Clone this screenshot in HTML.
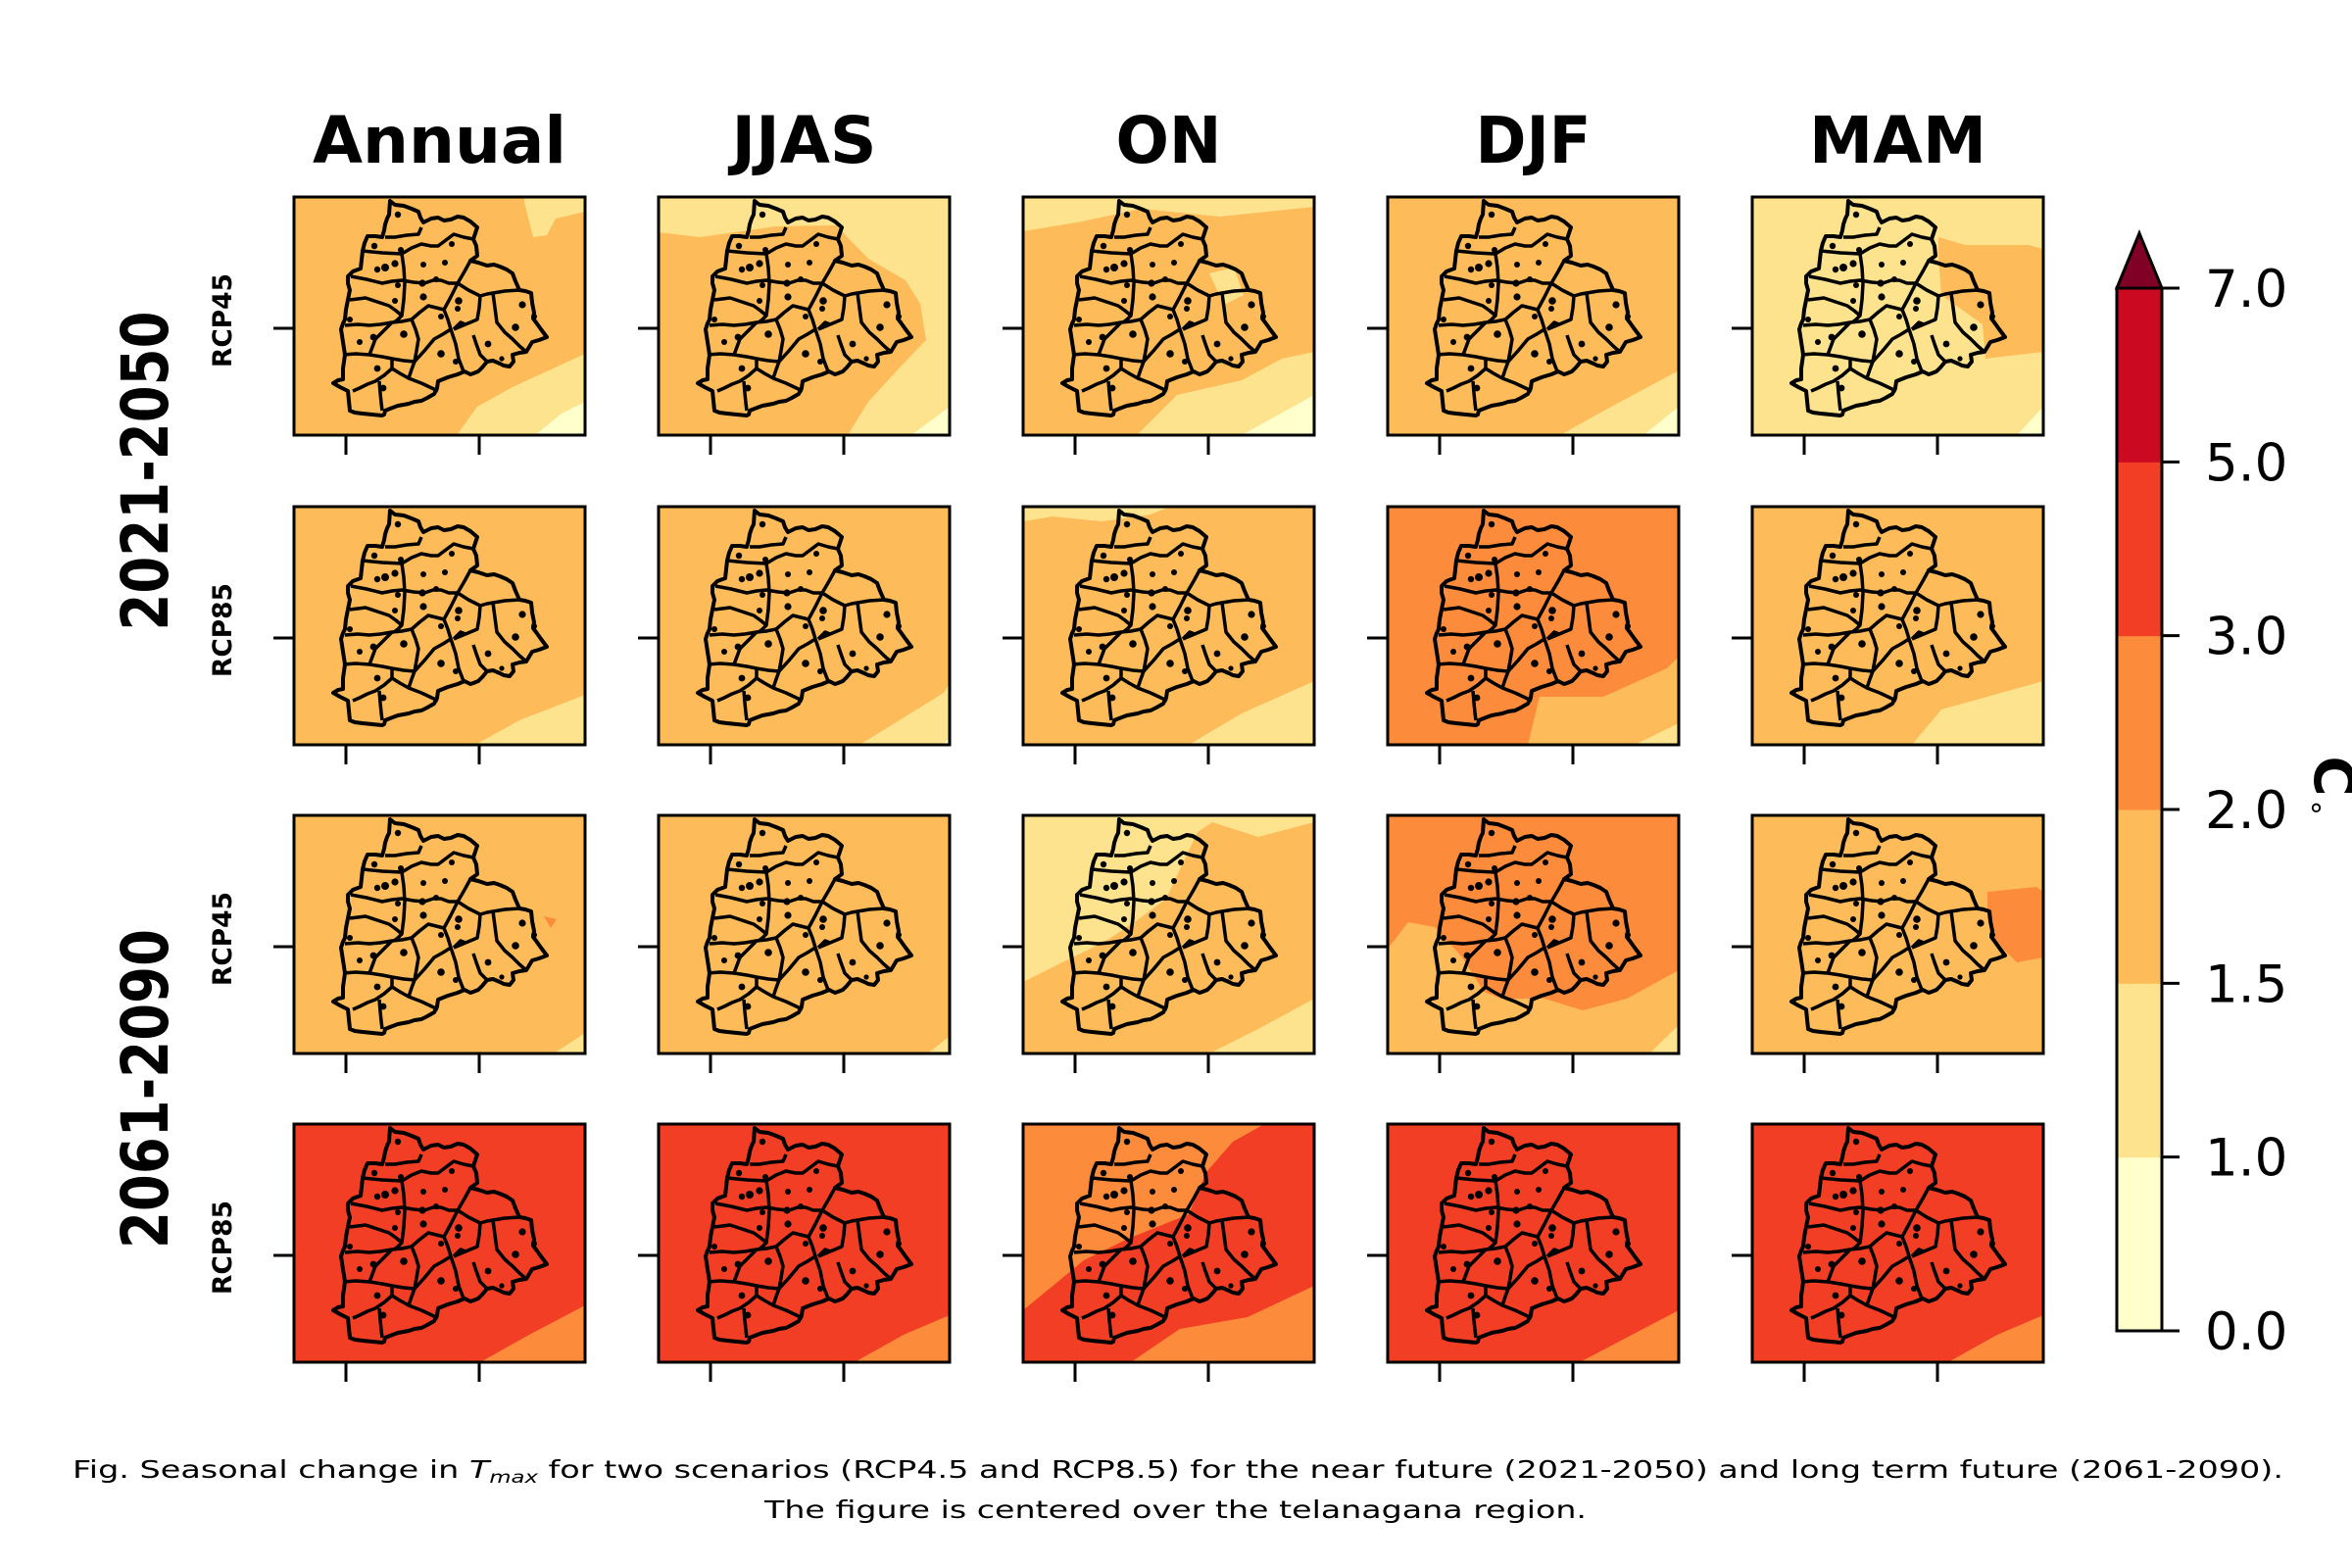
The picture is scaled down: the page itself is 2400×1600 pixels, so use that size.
<!DOCTYPE html>
<html><head><meta charset="utf-8">
<style>
html,body{margin:0;padding:0;background:#fff;}
svg{display:block;}
text{font-family:"DejaVu Sans","Liberation Sans",sans-serif;}
</style></head>
<body>
<svg id="fig" xmlns="http://www.w3.org/2000/svg" width="2400" height="1600" viewBox="0 0 2400 1600">
<defs>
<symbol id="telangana" viewBox="0 0 297 243" width="297" height="243">
<path d="M98,4 L103,8 L112,9 L120,12 L127,15 L129,21 L132,26 L140,22 L147,21 L153,24 L160,23 L167,20 L173,21 L180,25 L187,31 L185,37 L183,43 L186,50 L187,60 L180,65 L188,67 L197,70 L204,69 L210,71 L217,74 L223,78 L226,86 L230,95 L236,96 L242,98 L243,108 L245,118 L244,124 L247,128 L252,135 L258,143 L250,146 L243,148 L240,153 L237,158 L230,159 L223,161 L224,168 L220,173 L214,172 L210,170 L203,167 L197,168 L192,174 L188,178 L183,180 L180,181 L174,178 L167,181 L157,184 L147,188 L146,195 L143,201 L136,205 L130,208 L123,209 L117,211 L106,213 L98,216 L93,218 L92,222 L90,223 L80,222 L70,221 L62,220 L57,218 L56,208 L55,198 L47,194 L40,190 L45,187 L50,186 L50,175 L52,161 L50,148 L48,135 L50,129 L52,125 L53,115 L55,105 L57,95 L55,88 L55,81 L60,76 L68,73 L69,64 L70,55 L72,47 L75,40 L83,40 L90,41 L92,34 L93,28 L95,22 L97,18 Z" fill="none" stroke="#000" stroke-width="4" stroke-linejoin="round"/>
<g fill="none" stroke="#000" stroke-width="3.5" stroke-linejoin="round">
<polyline points="93,41 103,41 115,39 127,38 130,31"/>
<polyline points="70,55 90,57 110,58 120,52 130,48 140,50 147,50 155,44 163,38 173,41 183,43"/>
<polyline points="58,81 74,84 90,88 100,86 110,85 122,87 133,88 142,85 150,85 158,88 167,88 174,76 180,65"/>
<polyline points="110,58 112,72 113,88 112,105 110,121 106,125 102,128"/>
<polyline points="57,105 65,104 73,103 85,107 97,111 104,116 110,121"/>
<polyline points="52,131 65,130 77,131 88,130 100,128 110,127 120,125 128,118 137,111 145,113 153,115 160,102 167,88"/>
<polyline points="153,115 157,125 160,135 165,150 168,165 173,178"/>
<polyline points="167,88 178,95 190,101 197,99 203,98 215,96 230,95"/>
<polyline points="190,101 189,113 187,125 175,130 163,135"/>
<polyline points="203,98 205,113 207,128 215,138 223,145 230,152 237,158"/>
<polyline points="183,141 186,150 190,161 197,168"/>
<polyline points="120,125 124,135 127,145 125,157 123,168 120,176 117,185"/>
<polyline points="123,168 133,157 143,145 152,140 160,135"/>
<polyline points="50,161 63,160 77,161 90,163 100,165 112,167 123,168"/>
<polyline points="100,128 92,136 83,145 80,153 77,161"/>
<polyline points="60,198 67,195 75,191 83,188 92,182 100,175 108,180 117,185 130,190 147,198"/>
<polyline points="100,165 100,175"/>
<polyline points="87,188 88,200 89,210 90,218"/>
<polyline points="163,135 170,128 175,130"/>
</g>
<g fill="#000">
<circle cx="106" cy="18" r="3.2"/><circle cx="82" cy="50" r="3.2"/><circle cx="109" cy="54" r="3"/>
<circle cx="85" cy="74" r="3.2"/><circle cx="93" cy="72" r="4"/><circle cx="103" cy="68" r="3.6"/>
<circle cx="132" cy="69" r="3"/><circle cx="154" cy="67" r="3"/><circle cx="161" cy="48" r="3"/>
<circle cx="145" cy="84" r="3"/><circle cx="131" cy="88" r="3.6"/><circle cx="106" cy="90" r="3"/>
<circle cx="132" cy="102" r="3.6"/><circle cx="103" cy="106" r="3"/><circle cx="168" cy="106" r="3.8"/>
<circle cx="167" cy="114" r="3"/><circle cx="150" cy="122" r="3"/><circle cx="233" cy="110" r="3.6"/>
<circle cx="245" cy="122" r="3"/><circle cx="226" cy="133" r="3.8"/><circle cx="198" cy="150" r="3.4"/>
<circle cx="112" cy="140" r="3.8"/><circle cx="81" cy="143" r="3.4"/><circle cx="67" cy="148" r="3"/>
<circle cx="150" cy="160" r="3.8"/><circle cx="165" cy="168" r="3"/><circle cx="85" cy="175" r="3.4"/>
<circle cx="91" cy="195" r="3.4"/><circle cx="57" cy="125" r="3"/><circle cx="212" cy="165" r="2.6"/>
</g>
</symbol>
</defs>
<g id="panels"></g>
<g id="titles"></g>
<g id="rowlabels"></g>
<g id="cbar"></g>
<g>
<text x="74" y="1508" font-size="25" textLength="2256" lengthAdjust="spacingAndGlyphs">Fig. Seasonal change in <tspan font-style="italic">T</tspan><tspan font-style="italic" font-size="17" dy="5">max</tspan><tspan dy="-5"> for two scenarios (RCP4.5 and RCP8.5) for the near future (2021-2050) and long term future (2061-2090).</tspan></text>
<text x="780" y="1549" font-size="25" textLength="839" lengthAdjust="spacingAndGlyphs">The figure is centered over the telanagana region.</text>
</g>
</svg>
<script>
const NS = 'http://www.w3.org/2000/svg';
const levelColors = ['#ffffcc','#fee38f','#fdbb5a','#fc8c3c','#f13e25','#cb0a22'];
const levelBounds = [0.0, 1.0, 1.5, 2.0, 3.0, 5.0, 7.0];
const extendColor = '#800026';
const seasons = ['Annual','JJAS','ON','DJF','MAM'];
const scenarios = ['RCP45','RCP85','RCP45','RCP85'];
const periods = ['2021-2050','2061-2090'];
// base warming level (index into levelColors) per panel [row][col]
const baseLevel = [
  [2,1,2,2,1],
  [2,2,2,3,2],
  [2,2,2,3,2],
  [4,4,3,4,4]
];
// contour regions per panel: [row, col, level, polygon in panel-local coords]
const regions = [
  [0,0,1,'235,0 297,0 297,15 267,22 258,39 244,41 235,5'],
  [0,0,1,'166,243 187,214 223,194 297,160 297,243'],
  [0,0,0,'246,243 273,221 297,209 297,243'],
  [0,1,2,'0,36 42,41 120,30 181,29 214,63 252,85 267,109 273,146 247,173 214,209 193,243 0,243'],
  [0,1,0,'258,243 297,214 297,243'],
  [0,2,1,'0,0 297,0 297,10 200,20 120,12 60,25 0,35'],
  [0,2,1,'190,78 215,72 225,100 205,110'],
  [0,2,1,'116,243 157,202 223,187 264,165 297,158 297,243'],
  [0,2,0,'223,243 297,202 297,243'],
  [0,3,1,'176,243 219,219 297,177 297,243'],
  [0,3,0,'261,243 297,214 297,243'],
  [0,4,2,'190,41 217,49 282,49 297,53 297,158 238,165 235,130 193,100 190,63'],
  [0,4,0,'270,243 297,214 297,243'],
  [1,0,1,'185,243 230,218 297,192 297,243'],
  [1,1,1,'205,243 291,190 297,180 297,243'],
  [1,1,0,'290,243 297,235 297,243'],
  [1,2,1,'0,0 150,0 130,8 80,15 30,10 0,15'],
  [1,2,1,'169,243 223,211 297,178 297,243'],
  [1,3,2,'143,243 155,194 220,194 285,165 297,153 297,243'],
  [1,3,1,'252,243 297,221 297,243'],
  [1,4,1,'163,243 193,207 297,178 297,243'],
  [2,0,1,'265,243 297,222 297,243'],
  [2,0,3,'255,103 268,106 262,115'],
  [2,1,1,'275,243 297,225 297,243'],
  [2,2,1,'0,0 297,0 297,7 240,22 193,7 178,17 160,55 146,85 115,108 83,129 40,150 0,170'],
  [2,2,1,'190,243 238,219 297,187 297,243'],
  [2,3,2,'0,136 21,109 48,114 77,146 98,180 116,187 160,187 199,199 244,187 297,158 297,243 0,243'],
  [2,3,1,'267,243 297,214 297,243'],
  [2,4,3,'240,78 290,73 297,78 297,145 270,150 250,130 240,105'],
  [3,0,3,'190,243 240,215 297,185 297,243'],
  [3,1,3,'200,243 250,215 297,195 297,243'],
  [3,2,4,'246,0 297,0 297,165 229,197 160,209 110,243 0,243 0,190 62,139 107,117 169,92 187,49 214,18'],
  [3,3,3,'196,243 297,190 297,243'],
  [3,4,3,'200,243 250,215 297,195 297,243']
];
const colLeft = [300,672,1044,1416,1788];
const rowTop = [201,517,832,1147];
const PW = 297, PH = 243;

function mk(tag, attrs, parent){
  const e = document.createElementNS(NS, tag);
  for (const k in attrs) e.setAttribute(k, attrs[k]);
  if (parent) parent.appendChild(e);
  return e;
}
const panels = document.getElementById('panels');
for (let r = 0; r < 4; r++){
  for (let c = 0; c < 5; c++){
    const g = mk('g', {transform:`translate(${colLeft[c]},${rowTop[r]})`}, panels);
    
    
    const cp = mk('clipPath', {id:`cp${r}${c}`}, g);
    mk('rect', {x:0,y:0,width:PW,height:PH}, cp);
    const bg = mk('rect', {x:0,y:0,width:PW,height:PH,fill:levelColors[baseLevel[r][c]]}, g);
    
    
    const cg = mk('g', {'clip-path':`url(#cp${r}${c})`}, g);
    regions.filter(x => x[0]===r && x[1]===c).forEach(x => {
      const p = mk('polygon', {points:x[3], fill:levelColors[x[2]]}, cg);
      
      
    });
    const m = mk('use', {href:'#telangana', x:0, y:0, width:PW, height:PH}, g);
    
    
    const fr = mk('rect', {x:0,y:0,width:PW,height:PH,fill:'none',stroke:'#000','stroke-width':3}, g);
    
    
    mk('line', {x1:-21,y1:134,x2:0,y2:134,stroke:'#000','stroke-width':3}, g);
    [53,189].forEach(tx => mk('line', {x1:tx,y1:PH,x2:tx,y2:PH+20,stroke:'#000','stroke-width':3}, g));
  }
}
const titles = document.getElementById('titles');
const titleW = [259,148,108,118,181];
seasons.forEach((s,i) => {
  const t = mk('text', {x:colLeft[i]+PW/2, y:166, 'font-size':66, 'font-weight':'bold', 'text-anchor':'middle', textLength:titleW[i], lengthAdjust:'spacingAndGlyphs'}, titles);
  
  
  t.textContent = s;
});
const rl = document.getElementById('rowlabels');
periods.forEach((p,i) => {
  const cy = (rowTop[2*i] + rowTop[2*i+1] + PH)/2;
  const t = mk('text', {x:0, y:0, transform:`translate(171,${cy}) rotate(-90)`, 'font-size':66, 'font-weight':'bold', 'text-anchor':'middle', textLength:326, lengthAdjust:'spacingAndGlyphs'}, rl);
  
  
  t.textContent = p;
});
scenarios.forEach((s,i) => {
  const t = mk('text', {x:0, y:0, transform:`translate(236,${rowTop[i]+126}) rotate(-90)`, 'font-size':27, 'font-weight':'bold', 'text-anchor':'middle', textLength:96, lengthAdjust:'spacingAndGlyphs'}, rl);
  
  
  t.textContent = s;
});
// colorbar
const cb = document.getElementById('cbar');
const cbX = 2160, cbW = 46, cbTop = 294, cbBot = 1358;
const nLev = levelColors.length;
const segH = (cbBot - cbTop) / nLev;
levelColors.forEach((col,i) => {
  const y = cbBot - (i+1)*segH;
  const r = mk('rect', {x:cbX, y:y, width:cbW, height:segH+0.5, fill:col}, cb);
  
  
});
const tri = mk('polygon', {points:`${cbX},${cbTop} ${cbX+cbW/2},${cbTop-56} ${cbX+cbW},${cbTop}`, fill:extendColor, stroke:'#000','stroke-width':3, 'stroke-linejoin':'miter'}, cb);


mk('rect', {x:cbX, y:cbTop, width:cbW, height:cbBot-cbTop, fill:'none', stroke:'#000', 'stroke-width':3}, cb);
levelBounds.forEach((v,i) => {
  const y = cbBot - i*segH;
  mk('line', {x1:cbX+cbW, y1:y, x2:cbX+cbW+18, y2:y, stroke:'#000', 'stroke-width':3}, cb);
  const t = mk('text', {x:2250, y:y+19, 'font-size':53}, cb);
  
  
  t.textContent = v.toFixed(1);
});
const cl = mk('text', {x:0, y:0, transform:'translate(2362,792) rotate(90)', 'font-size':56, 'font-weight':'bold', 'text-anchor':'middle'}, cb);


cl.textContent = 'C';
const deg = mk('text', {x:2356, y:842, 'font-size':30}, cb);


deg.textContent = '°';
</script>
</body></html>
